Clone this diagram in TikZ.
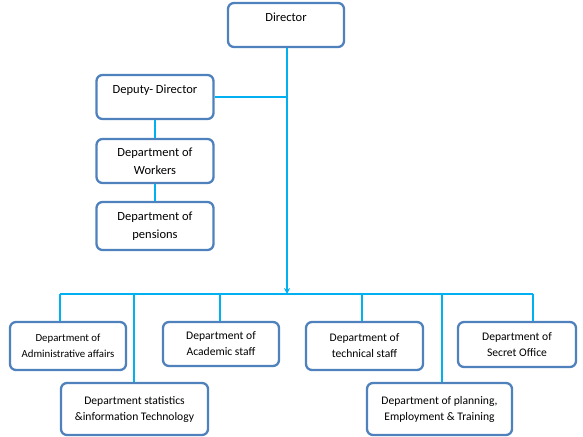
\documentclass[tikz,border=0pt]{standalone}
\usepackage{fontspec}
\setmainfont{Carlito}
\usetikzlibrary{arrows.meta}
\definecolor{boxblue}{HTML}{4F81BD}
\definecolor{linecyan}{HTML}{00B0F0}
\tikzset{
  orgbox/.style={draw=boxblue, line width=2.3bp, rounded corners=6bp, fill=white,
    align=center, inner sep=2bp, font=\fontsize{12.5bp}{18bp}\selectfont},
  topbox/.style={orgbox, text height=9bp, text depth=16bp},
  midbox/.style={orgbox, font=\fontsize{11.6bp}{16bp}\selectfont},
  smallbox/.style={orgbox, font=\fontsize{10.8bp}{16bp}\selectfont},
  conn/.style={draw=linecyan, line width=2bp}
}
\begin{document}
\begin{tikzpicture}[x=1bp,y=-1bp]
\useasboundingbox (0,0) rectangle (583,437);
% boxes
\node[topbox, minimum width=116bp, minimum height=44bp] (dir) at (286,25) {Director};
\node[topbox, minimum width=117bp, minimum height=44bp] (dep) at (155,97) {Deputy- Director};
\node[orgbox, minimum width=117bp, minimum height=44bp] (wrk) at (155,161) {Department of\\Workers};
\node[orgbox, minimum width=117bp, minimum height=48bp] (pen) at (155,226) {Department of\\pensions};
\node[smallbox, minimum width=116bp, minimum height=48bp] (adm) at (68,346) {Department of\\Administrative affairs};
\node[midbox, minimum width=147bp, minimum height=52bp] (sta) at (134.5,409) {Department statistics\\\&information Technology};
\node[midbox, minimum width=116bp, minimum height=44bp] (aca) at (221,344) {Department of\\Academic staff};
\node[midbox, minimum width=117bp, minimum height=48bp] (tec) at (364.5,346) {Department of\\technical staff};
\node[midbox, minimum width=118bp, minimum height=45bp] (sec) at (517,344.5) {Department of\\Secret Office};
\node[midbox, minimum width=145bp, minimum height=52bp] (pla) at (439.5,409) {Department of planning,\\Employment \& Training};
% bus coordinates
\coordinate (bus) at (287,294);
\coordinate (bA) at (60,294);
\coordinate (bS) at (134,294);
\coordinate (bC) at (220,294);
\coordinate (bT) at (362,294);
\coordinate (bP) at (442,294);
\coordinate (bE) at (533,294);
\coordinate (dj) at (287,97);
% connectors
\draw[conn] (dep.east) -- (dj);
\draw[conn] (dep.south) -- (wrk.north);
\draw[conn] (wrk.south) -- (pen.north);
\draw[conn] (bA) -- (bE);
\draw[conn, -{Stealth[length=6bp,width=6bp]}] (dir.south -| bus) -- (bus);
\draw[conn] (bA) -- (bA |- adm.north);
\draw[conn] (bS) -- (bS |- sta.north);
\draw[conn] (bC) -- (bC |- aca.north);
\draw[conn] (bT) -- (bT |- tec.north);
\draw[conn] (bP) -- (bP |- pla.north);
\draw[conn] (bE) -- (bE |- sec.north);
\end{tikzpicture}
\end{document}
